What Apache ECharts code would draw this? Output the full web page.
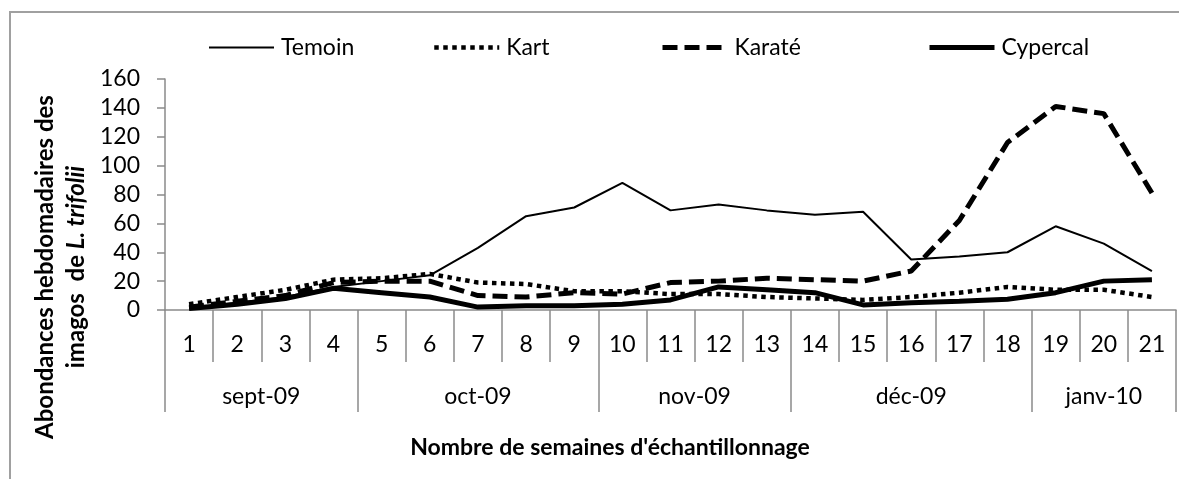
<!DOCTYPE html>
<html>
<head>
<meta charset="utf-8">
<script src="https://cdn.jsdelivr.net/npm/echarts@6/dist/echarts.min.js"></script>
<style>
html, body { margin: 0; padding: 0; background: #fff; }
#chart { width: 1179px; height: 479px; }
</style>
</head>
<body>
<div id="chart"></div>
<script>
// semaines d'échantillonnage
const weeks = ['1', '2', '3', '4', '5', '6', '7', '8', '9', '10', '11', '12', '13', '14', '15', '16', '17', '18', '19', '20', '21'];
// mois et nombre de semaines par mois
const months = ['sept-09', 'oct-09', 'nov-09', 'déc-09', 'janv-10'];
const monthWeeks = [4, 5, 4, 5, 3];

const seriesNames = ['Temoin', 'Kart', 'Karaté', 'Cypercal'];
const temoin = [1, 5, 9, 16, 20, 24, 43, 65, 71, 88, 69, 73, 69, 66, 68, 35, 37, 40, 58, 46, 27];
const kart = [4, 9, 14, 21, 22, 25, 19, 18, 13, 13, 11, 11, 9, 8, 7, 9, 12, 16, 14, 14, 9];
const karate = [2, 6, 10, 19, 20, 20, 10, 9, 12, 11, 19, 20, 22, 21, 20, 27, 62, 116, 141, 136, 81];
const cypercal = [1, 4, 8, 15, 12, 9, 2, 3, 3, 4, 7, 16, 14, 12, 3.5, 5, 6, 7.5, 12, 20, 21];

// limites et centres des mois sur l'axe (en semaines)
const monthBounds = [0];
monthWeeks.forEach(n => monthBounds.push(monthBounds[monthBounds.length - 1] + n));
const monthCenters = months.map((m, i) => (monthBounds[i] + monthBounds[i + 1]) / 2);

const FONT = 'Lato';
const GRAY = '#8a8a8a';

const chart = echarts.init(document.getElementById('chart'));

const lineStyles = [
  { color: '#000', width: 2, type: 'solid' },
  { color: '#000', width: 4.5, type: [4.5, 4.5], cap: 'butt' },
  { color: '#000', width: 5, type: [15, 7], cap: 'butt' },
  { color: '#000', width: 5, type: 'solid' }
];
const seriesData = [temoin, kart, karate, cypercal];
const legendLeft = [203, 427, 655, 922];

chart.setOption({
  animation: false,
  backgroundColor: '#fff',
  title: {
    text: "Nombre de semaines d'échantillonnage",
    left: 605,
    top: 431,
    textAlign: 'center',
    textStyle: { fontFamily: FONT, fontSize: 23, fontWeight: 'bold', color: '#000' }
  },
  // une légende par série pour placer chaque entrée comme dans Excel
  legend: seriesNames.map((name, i) => ({
    data: [name],
    left: legendLeft[i],
    top: 31,
    itemWidth: 65,
    itemHeight: 14,
    itemStyle: { opacity: 0 },
    lineStyle: Object.assign({ inactiveWidth: lineStyles[i].width }, lineStyles[i]),
    textStyle: { fontFamily: FONT, fontSize: 23, color: '#000', padding: [0, 0, 0, 2] }
  })),
  grid: { left: 165, right: 3, top: 79, bottom: 169 },
  xAxis: [
    {
      type: 'category',
      data: weeks,
      boundaryGap: true,
      axisLine: { show: true, lineStyle: { color: GRAY, width: 1.5 } },
      axisTick: { show: true, interval: 0, length: 52, lineStyle: { color: GRAY, width: 1.5 } },
      axisLabel: {
        interval: 0, margin: 35, verticalAlign: 'middle',
        fontFamily: FONT, fontSize: 23, color: '#000'
      },
      splitLine: { show: false }
    },
    {
      type: 'value',
      position: 'bottom',
      min: 0,
      max: weeks.length,
      axisLine: { show: false },
      axisTick: { show: true, customValues: monthBounds, length: 102, lineStyle: { color: GRAY, width: 1.5 } },
      axisLabel: {
        customValues: monthCenters,
        margin: 87, verticalAlign: 'middle',
        fontFamily: FONT, fontSize: 23, color: '#000',
        formatter: v => {
          const i = monthCenters.indexOf(v);
          return i >= 0 ? months[i] : '';
        }
      },
      splitLine: { show: false }
    }
  ],
  yAxis: {
    type: 'value',
    min: 0,
    max: 160,
    interval: 20,
    axisLine: { show: true, lineStyle: { color: GRAY, width: 1.5 } },
    axisTick: { show: true, length: 8, lineStyle: { color: GRAY, width: 1.5 } },
    axisLabel: { margin: 25, fontFamily: FONT, fontSize: 23, color: '#000' },
    splitLine: { show: false }
  },
  series: seriesNames.map((name, i) => ({
    name: name,
    type: 'line',
    xAxisIndex: 0,
    data: seriesData[i],
    symbol: 'none',
    lineStyle: lineStyles[i],
    itemStyle: { color: '#000' },
    emphasis: { disabled: true }
  })),
  graphic: [
    {
      type: 'rect',
      shape: { x: 10, y: 12, width: 1300, height: 600 },
      style: { fill: 'none', stroke: '#a0a0a0', lineWidth: 2 },
      silent: true
    },
    {
      type: 'text',
      x: 61,
      y: 267,
      rotation: Math.PI / 2,
      style: {
        text: 'Abondances hebdomadaires des\nimagos  de {i|L. trifolii}',
        fontFamily: FONT,
        fontSize: 24,
        fontWeight: 'bold',
        lineHeight: 31,
        fill: '#000',
        align: 'center',
        verticalAlign: 'middle',
        rich: {
          i: { fontFamily: FONT, fontSize: 24, fontWeight: 'bold', fontStyle: 'italic', lineHeight: 31 }
        }
      }
    }
  ]
});
</script>
</body>
</html>
